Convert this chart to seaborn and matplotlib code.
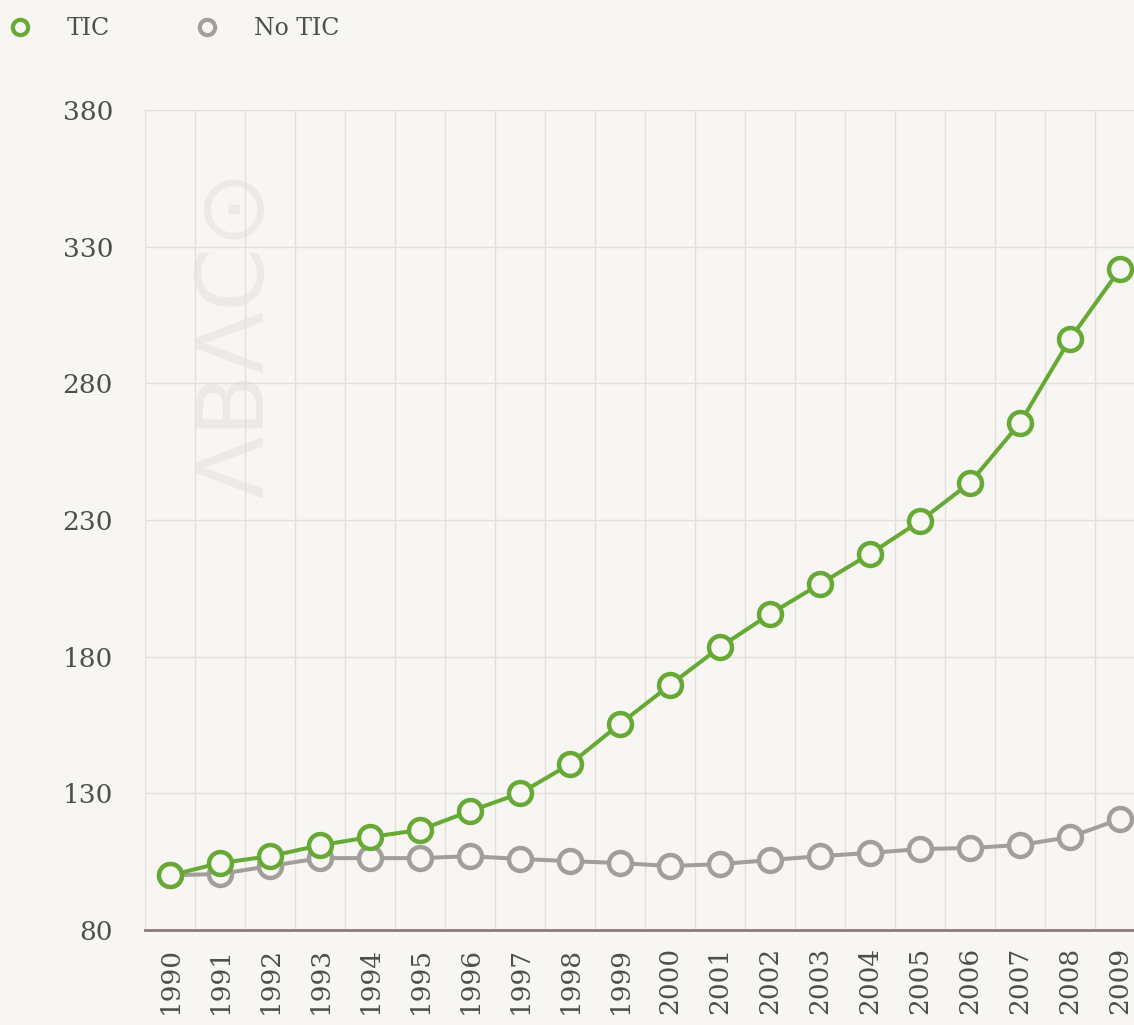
import matplotlib.pyplot as plt
import numpy as np
import pandas as pd
import seaborn as sns

sns.set_theme(style="white")
plt.rcParams['font.family'] = ['DejaVu Serif', 'DejaVu Sans']

# -------------------------------------------------------------------
# data
# -------------------------------------------------------------------
years = [str(y) for y in range(1990, 2010)]
tic = [100, 104.5, 107, 111, 114, 116.6, 123.5, 130, 140.7, 155.4,
       169.6, 183.5, 195.6, 206.6, 217.6, 229.6, 243.6, 265.5, 296.2, 321.8]
no_tic = [100, 100.5, 103.4, 106.3, 106.3, 106.3, 107, 106, 105.2, 104.5,
          103.4, 104.1, 105.6, 107, 108.2, 109.6, 110, 111.1, 114, 120.6]
y_ticks = [80, 130, 180, 230, 280, 330, 380]

bg = '#f7f6f2'
green = '#66a935'
grey = '#a19f99'
txt = '#4f4f4a'

df = pd.DataFrame({'Year': years, 'TIC': tic, 'No TIC': no_tic})
df['pos'] = np.arange(len(years))

# -------------------------------------------------------------------
# plot
# -------------------------------------------------------------------
fig = plt.figure(figsize=(11.34, 10.25), dpi=100, facecolor=bg)
ax = fig.add_axes([145 / 1134, 95 / 1025, 1000 / 1134, 820 / 1025])
ax.set_facecolor(bg)

# watermark
ax.text(0.092, 0.727, 'ΛBΛC⊙', transform=ax.transAxes, rotation=90,
        fontsize=66, color='#ebeae6', family='DejaVu Sans',
        ha='center', va='center', zorder=0)

for col, color in [('No TIC', grey), ('TIC', green)]:
    sns.lineplot(data=df, x='pos', y=col, ax=ax, color=color, linewidth=2.9,
                 marker='o', markersize=16.5, markerfacecolor=bg,
                 markeredgecolor=color, markeredgewidth=3.2, label=col,
                 legend=False, zorder=3)

ax.set_xlim(-0.5, len(years) - 0.5)
ax.set_ylim(80, 380)
ax.set_yticks(y_ticks)
ax.set_xticks(df['pos'])
ax.set_xticklabels(years, rotation=90)
ax.set_xticks(np.arange(-0.5, len(years)), minor=True)
ax.grid(False)
ax.grid(True, which='minor', axis='x', color='#e2e0db', linewidth=1)
ax.grid(True, which='major', axis='y', color='#e2e0db', linewidth=1)
ax.tick_params(axis='both', which='both', length=0, labelsize=19,
               labelcolor=txt)
ax.tick_params(axis='y', pad=23)
ax.tick_params(axis='x', pad=12)
ax.set_xlabel('')
ax.set_ylabel('')
for s in ['top', 'right', 'left']:
    ax.spines[s].set_visible(False)
ax.spines['bottom'].set_color('#8c7b7e')
ax.spines['bottom'].set_linewidth(2)

# legend (markers only)
h1 = plt.Line2D([], [], linestyle='none', marker='o', markersize=11,
                markerfacecolor=bg, markeredgecolor=green, markeredgewidth=3)
h2 = plt.Line2D([], [], linestyle='none', marker='o', markersize=11,
                markerfacecolor=bg, markeredgecolor=grey, markeredgewidth=3)
fig.legend([h1, h2], ['TIC', 'No TIC'], loc='center left',
           bbox_to_anchor=(8 / 1134, 0.972), ncol=2, frameon=False,
           fontsize=17, handlelength=1.0, borderpad=0, borderaxespad=0,
           handletextpad=1.5, columnspacing=3.6, labelcolor=txt)

fig.savefig('out.png', dpi=100, facecolor=bg)
